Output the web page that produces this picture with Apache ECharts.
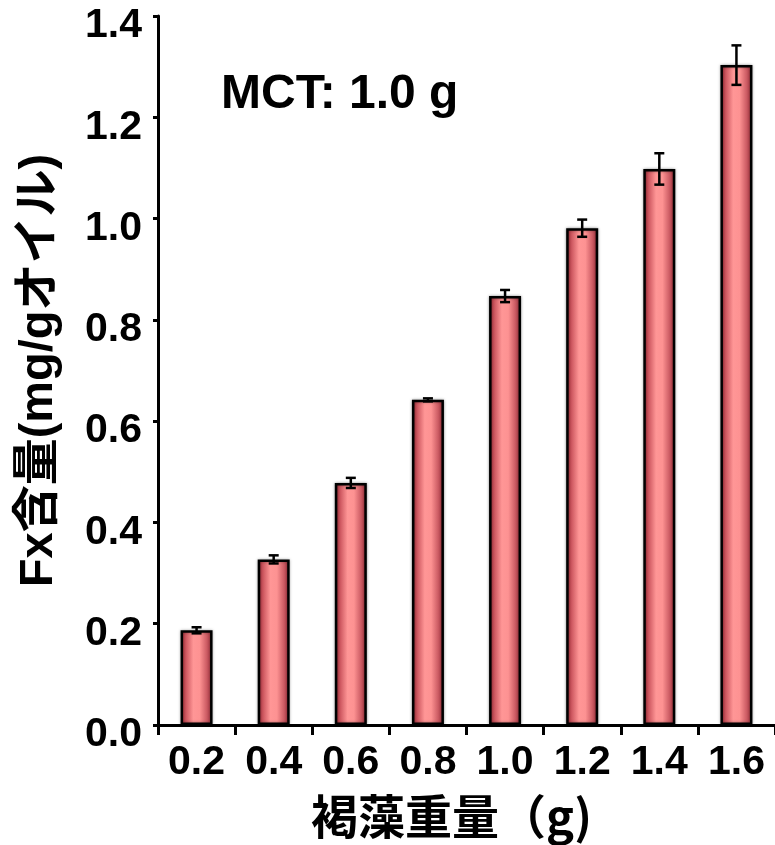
<!DOCTYPE html>
<html>
<head>
<meta charset="utf-8">
<script src="https://cdn.jsdelivr.net/npm/echarts@6/dist/echarts.min.js"></script>
<style>
	html, body { margin: 0; padding: 0; background: #fff; }
	#chart { width: 775px; height: 845px; }
</style>
</head>
<body>
<div id="chart"></div>
<script>
/*
 * 褐藻重量 vs Fx含量 data
 */
var categories = ['0.2', '0.4', '0.6', '0.8', '1.0', '1.2', '1.4', '1.6'];
var fxValues = [0.187, 0.327, 0.478, 0.642, 0.847, 0.981, 1.098, 1.303];
var fxErrors = [0.006, 0.008, 0.010, 0.003, 0.012, 0.017, 0.031, 0.039];
var yTicks = [0, 0.2, 0.4, 0.6, 0.8, 1.0, 1.2, 1.4];

var LATIN = '"Liberation Sans", Arial, sans-serif';
var CJK = '"Liberation Sans", "Noto Sans CJK JP", sans-serif';

var errorData = [];
for (var n = 0; n < categories.length; n++) {
	errorData.push([n, fxValues[n], fxErrors[n]]);
}

/*
 * 误差线 renderItem
 */
var renderErrorBar = function(params, api) {
	var x = api.value(0);
	var hi = api.coord([x, api.value(1) + api.value(2)]);
	var lo = api.coord([x, api.value(1) - api.value(2)]);
	var half = 5;
	var style = { stroke: '#000', lineWidth: 2.5 };
	return {
		type: 'group',
		children: [
			{ type: 'line', shape: { x1: hi[0], y1: hi[1], x2: lo[0], y2: lo[1] }, style: style },
			{ type: 'line', shape: { x1: hi[0] - half, y1: hi[1], x2: hi[0] + half, y2: hi[1] }, style: style },
			{ type: 'line', shape: { x1: lo[0] - half, y1: lo[1], x2: lo[0] + half, y2: lo[1] }, style: style }
		]
	};
};

var chart = echarts.init(document.getElementById('chart'));
var option = {
	animation: false,
	backgroundColor: '#fff',
	title: {
		text: 'MCT: 1.0 g',
		left: 221,
		top: 71,
		padding: 0,
		textStyle: { fontFamily: LATIN, fontWeight: 'bold', fontSize: 48, color: '#000' }
	},
	grid: { left: 158, top: 16, right: -4, bottom: 118, containLabel: false },
	xAxis: {
		type: 'category',
		data: categories,
		name: '褐藻重量（g)',
		nameLocation: 'middle',
		nameGap: 68,
		nameTextStyle: {
			fontFamily: '"Noto Sans CJK JP", sans-serif', fontWeight: 'bold', fontSize: 47, color: '#000',
			padding: [0, 30, 0, 0]
		},
		axisLine: { lineStyle: { color: '#000', width: 3 } },
		axisTick: { show: true, length: 10, lineStyle: { color: '#000', width: 3 } },
		axisLabel: { margin: 17, fontFamily: LATIN, fontWeight: 'bold', fontSize: 41, color: '#000' }
	},
	yAxis: {
		type: 'value',
		min: yTicks[0],
		max: yTicks[yTicks.length - 1],
		interval: 0.2,
		name: 'Fx含量(mg/gオイル)',
		nameLocation: 'middle',
		nameGap: 95,
		nameTextStyle: { fontFamily: CJK, fontWeight: 'bold', fontSize: 47, color: '#000' },
		axisLine: { show: true, lineStyle: { color: '#000', width: 3 } },
		axisTick: { show: true, length: 5, lineStyle: { color: '#000', width: 3 } },
		axisLabel: {
			margin: 16,
			verticalAlign: 'top',
			lineHeight: 20,
			fontFamily: LATIN, fontWeight: 'bold', fontSize: 41, color: '#000',
			formatter: function(v) { return v.toFixed(1); }
		},
		splitLine: { show: false }
	},
	series: [
		{
			name: 'Fx',
			type: 'bar',
			data: fxValues,
			barWidth: 32,
			itemStyle: {
				borderColor: '#000',
				borderWidth: 2.5,
				shadowColor: 'rgba(0,0,0,0.35)',
				shadowBlur: 3,
				color: new echarts.graphic.LinearGradient(0, 0, 1, 0, [
					{ offset: 0, color: '#9a2630' },
					{ offset: 0.15, color: '#c9525b' },
					{ offset: 0.4, color: '#ff9696' },
					{ offset: 0.6, color: '#fd9292' },
					{ offset: 0.85, color: '#c5545d' },
					{ offset: 1, color: '#9e2b36' }
				])
			}
		},
		{
			name: 'err',
			type: 'custom',
			renderItem: renderErrorBar,
			data: errorData,
			z: 10
		}
	]
};
chart.setOption(option);
</script>
</body>
</html>
